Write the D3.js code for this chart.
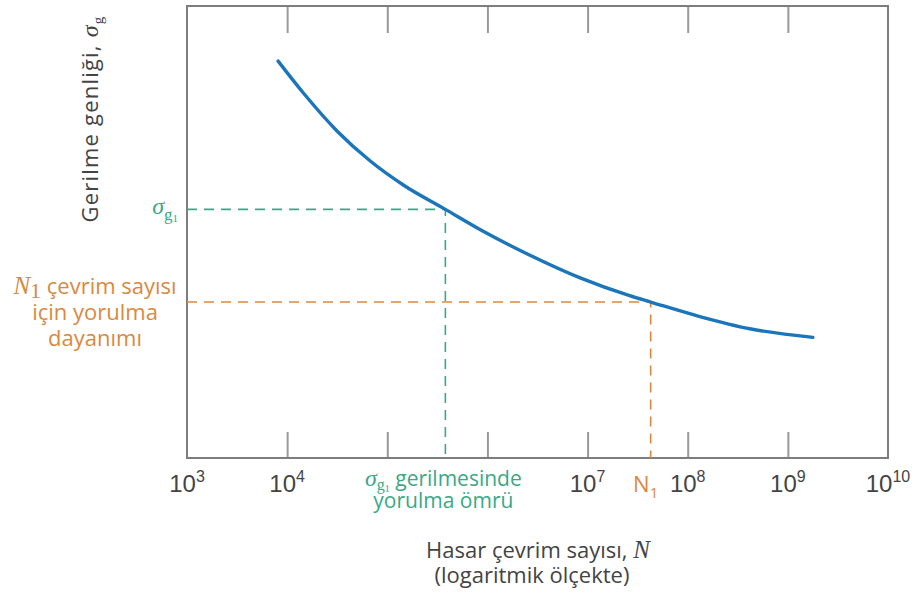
<!DOCTYPE html>
<html>
<head>
<meta charset="utf-8">
<script src="https://cdn.jsdelivr.net/npm/d3@7"></script>
<style>
  body { margin: 0; background: #fff; }
  text { font-family: "Open Sans", "Noto Sans", sans-serif; }
  .tick-label { font-family: "Liberation Sans", Arial, sans-serif; }
  .it { font-family: "Liberation Serif", "DejaVu Serif", serif; font-style: italic; }
  .up { font-family: "Liberation Serif", "DejaVu Serif", serif; }
</style>
</head>
<body>
<div id="chart"></div>
<script>
// S-N curve, exponent of N (log10) and stress amplitude (arbitrary units)
var logN =   [3.91, 4.16, 4.50, 4.83, 5.16, 5.58, 5.93, 6.43, 6.92, 7.42, 7.63, 8.12, 8.62, 9.25];
var stress = [87.8, 80.8, 72.3, 65.7, 60.4, 55.0, 50.5, 44.8, 39.9, 35.9, 34.5, 31.3, 28.6, 26.7];

// read-off points: [logN, stress]
var sigmaG1 = [5.58, 55.0];
var n1 = [7.63, 34.5];

var tickExp = [4, 5, 6, 7, 8, 9];
var labelExp = [3, 4, 7, 8, 9, 10];

var width = 912, height = 597;
var green = "#3aa887", orange = "#d9893f", blue = "#1b75bb", grey = "#444";

var svg = d3.select("#chart").append("svg")
  .attr("width", width)
  .attr("height", height);

var x = d3.scaleLinear().domain([3, 10]).range([187, 888]);
var y = d3.scaleLinear().domain([0, 100]).range([458, 6]);

// inner ticks top and bottom
svg.append("g")
  .attr("transform", "translate(0,458)")
  .call(d3.axisBottom(x).tickValues(tickExp).tickSizeInner(-26).tickSizeOuter(0).tickFormat(""))
  .call(function(g) { g.select(".domain").remove(); })
  .selectAll("line").attr("stroke", "#999").attr("stroke-width", 2);

svg.append("g")
  .attr("transform", "translate(0,6)")
  .call(d3.axisTop(x).tickValues(tickExp).tickSizeInner(-27).tickSizeOuter(0).tickFormat(""))
  .call(function(g) { g.select(".domain").remove(); })
  .selectAll("line").attr("stroke", "#999").attr("stroke-width", 2);

// frame
svg.append("rect")
  .attr("x", x(3)).attr("y", y(100))
  .attr("width", x(10) - x(3)).attr("height", y(0) - y(100))
  .attr("fill", "none")
  .attr("stroke", "#7d7d7d")
  .attr("stroke-width", 2);

// tick labels 10^n
var lab = svg.append("g").selectAll("text")
  .data(labelExp)
  .enter()
  .append("text")
  .attr("class", "tick-label")
  .attr("x", function(d) { return x(d); })
  .attr("y", 492)
  .attr("text-anchor", "middle")
  .attr("fill", grey)
  .style("font-size", "24px");
lab.append("tspan").text("10");
lab.append("tspan").attr("dy", -10).style("font-size", "16px").text(function(d) { return d; });

// dashed guide lines
function guide(p, color) {
  svg.append("path")
    .attr("d", "M" + x(3) + "," + y(p[1]) + "H" + x(p[0]) + "V" + y(0))
    .attr("fill", "none")
    .attr("stroke", color)
    .attr("stroke-width", 1.6)
    .attr("stroke-dasharray", "10,7");
}
guide(sigmaG1, green);
guide(n1, orange);

// curve
var line = d3.line()
  .x(function(d, i) { return x(logN[i]); })
  .y(function(d) { return y(d); })
  .curve(d3.curveMonotoneX);

svg.append("path")
  .datum(stress)
  .attr("d", line)
  .attr("fill", "none")
  .attr("stroke", blue)
  .attr("stroke-width", 3.4)
  .attr("stroke-linecap", "round");

// sigma_g1 on the y side
var sg = svg.append("text")
  .attr("x", 178).attr("y", y(sigmaG1[1]) + 5)
  .attr("text-anchor", "end")
  .attr("fill", green)
  .style("font-size", "24px");
sg.append("tspan").attr("class", "it").text("σ");
sg.append("tspan").attr("class", "up").attr("dy", 6).style("font-size", "17px").text("g");
sg.append("tspan").attr("class", "up").attr("dy", 2).style("font-size", "11px").text("1");

// N1 label on the y side
var ny = svg.append("g").attr("fill", orange).style("font-size", "22px").attr("text-anchor", "middle");
var l1 = ny.append("text").attr("x", 95).attr("y", 294);
l1.append("tspan").attr("class", "it").style("font-size", "25px").text("N");
l1.append("tspan").attr("class", "up").attr("dy", 4).text("1");
l1.append("tspan").attr("dy", -4).text(" çevrim sayısı");
ny.append("text").attr("x", 95).attr("y", 320).text("için yorulma");
ny.append("text").attr("x", 95).attr("y", 346).text("dayanımı");

// sigma_g1 label on the x side
var gx = svg.append("g").attr("fill", green).style("font-size", "21px").attr("text-anchor", "middle");
var g1 = gx.append("text").attr("x", x(sigmaG1[0]) - 2).attr("y", 486);
g1.append("tspan").attr("class", "it").style("font-size", "24px").text("σ");
g1.append("tspan").attr("class", "up").attr("dy", 4).style("font-size", "16px").text("g");
g1.append("tspan").attr("class", "up").attr("dy", 2).style("font-size", "10px").text("1");
g1.append("tspan").attr("dy", -6).text(" gerilmesinde");
gx.append("text").attr("x", x(sigmaG1[0]) - 2).attr("y", 508).text("yorulma ömrü");

// N1 on the x side
var nx = svg.append("text")
  .attr("x", x(n1[0]) - 5).attr("y", 492)
  .attr("text-anchor", "middle")
  .attr("fill", orange)
  .style("font-size", "22px");
nx.append("tspan").text("N");
nx.append("tspan").attr("dy", 6).style("font-size", "15px").text("1");

// axis titles
var xt = svg.append("g").attr("fill", grey).style("font-size", "22px").attr("text-anchor", "middle");
var t1 = xt.append("text").attr("x", 538).attr("y", 558);
t1.append("tspan").text("Hasar çevrim sayısı, ");
t1.append("tspan").attr("class", "it").style("font-size", "25px").text("N");
xt.append("text").attr("x", 532).attr("y", 583).text("(logaritmik ölçekte)");

var yt = svg.append("text")
  .attr("transform", "translate(98,119) rotate(-90)")
  .attr("text-anchor", "middle")
  .attr("fill", grey)
  .style("font-size", "22px")
  .style("letter-spacing", "1.2px");
yt.append("tspan").text("Gerilme genliği, ");
yt.append("tspan").attr("class", "it").style("font-size", "24px").text("σ");
yt.append("tspan").attr("class", "up").attr("dy", 5).style("font-size", "15px").text("g");
</script>
</body>
</html>
